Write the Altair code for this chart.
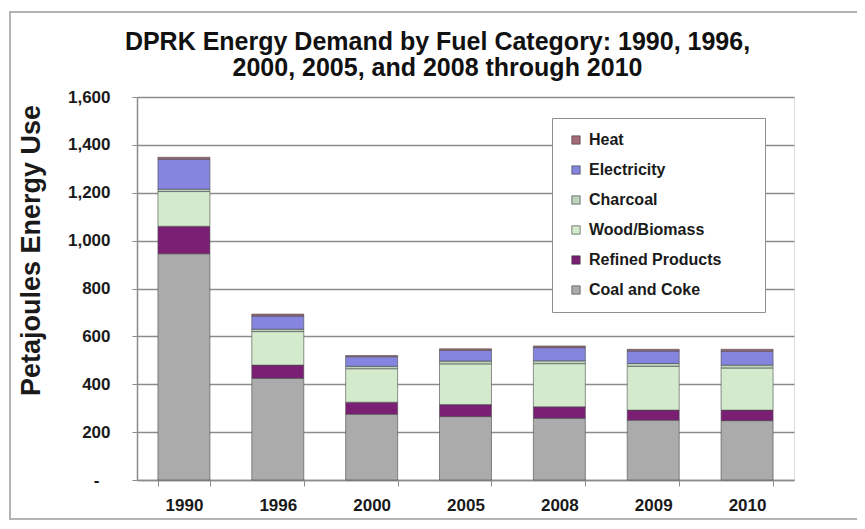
import altair as alt
import pandas as pd

years = ["1990", "1996", "2000", "2005", "2008", "2009", "2010"]
coal = [945, 425, 275, 265, 258, 250, 248]
refined = [115, 55, 50, 50, 48, 42, 44]
wood = [145, 140, 140, 170, 180, 183, 176]
charcoal = [10, 10, 10, 12, 12, 12, 12]
electricity = [125, 55, 40, 45, 55, 52, 58]
heat = [8, 8, 5, 6, 7, 7, 8]

stack_names = ["Coal and Coke", "Refined Products", "Wood/Biomass", "Charcoal", "Electricity", "Heat"]
stack_values = [coal, refined, wood, charcoal, electricity, heat]

legend_order = ["Heat", "Electricity", "Charcoal", "Wood/Biomass", "Refined Products", "Coal and Coke"]
legend_colors = ["#a56a7a", "#8585e0", "#bcd3bc", "#d3ebcc", "#7a1f74", "#ababab"]

y_ticks = [0, 200, 400, 600, 800, 1000, 1200, 1400, 1600]

rows = []
for i, (name, vals) in enumerate(zip(stack_names, stack_values)):
    for yr, v in zip(years, vals):
        rows.append({"Year": yr, "Fuel": name, "Value": v, "Stack": i})
df = pd.DataFrame(rows)

FONT = "Liberation Sans"
GRID = "#8c8c8c"

bars = alt.Chart(df).mark_bar(stroke="#4a4a4a", strokeWidth=0.6).encode(
    x=alt.X(
        "Year:N",
        sort=years,
        scale=alt.Scale(paddingInner=0.446, paddingOuter=0.223),
        axis=alt.Axis(
            title=None,
            labelAngle=0,
            labelFontSize=17,
            labelFontWeight="bold",
            labelFont=FONT,
            labelColor="#1a1a1a",
            labelPadding=11,
            tickBand="extent",
            tickSize=6,
            tickColor=GRID,
            domainColor=GRID,
            domainWidth=1.5,
            grid=False,
        ),
    ),
    y=alt.Y(
        "Value:Q",
        stack="zero",
        scale=alt.Scale(domain=[0, 1600], nice=False),
        axis=alt.Axis(
            values=y_ticks,
            labelExpr="datum.value == 0 ? '-' : format(datum.value, ',')",
            labelFontSize=17,
            labelFontWeight="bold",
            labelFont=FONT,
            labelColor="#1a1a1a",
            labelPadding={"condition": {"test": "datum.value == 0", "value": 33}, "value": 22},
            tickSize=5,
            tickColor=GRID,
            domainColor=GRID,
            domainWidth=1.5,
            grid=True,
            gridColor=GRID,
            gridWidth=1.3,
            title="Petajoules Energy Use",
            titleFont=FONT,
            titleFontSize=27,
            titleFontWeight="bold",
            titleColor="#1a1a1a",
            titleAlign="center",
            titleBaseline="bottom",
            titleX=-92,
            titleY=153,
        ),
    ),
    color=alt.Color(
        "Fuel:N",
        scale=alt.Scale(domain=legend_order, range=legend_colors),
        legend=alt.Legend(
            title="MMM",
            titleOrient="right",
            titleOpacity=0,
            titleFontSize=11,
            titlePadding=2,
            orient="none",
            legendX=415,
            legendY=21,
            fillColor="white",
            strokeColor="#909090",
            padding=14,
            symbolType="square",
            symbolSize=70,
            symbolStrokeColor="#333333",
            symbolStrokeWidth=0.6,
            symbolOffset=2,
            labelFont=FONT,
            labelFontSize=16,
            labelFontWeight="bold",
            labelColor="#1a1a1a",
            labelOffset=5,
            rowPadding=14,
        ),
    ),
    order=alt.Order("Stack:Q", sort="ascending"),
)

frame = alt.Chart(pd.DataFrame({"f": [0]})).mark_rect(
    filled=False, stroke="#b4b4b4", strokeWidth=2
).encode(
    x=alt.value(-127), x2=alt.value(760), y=alt.value(-85), y2=alt.value(422)
)

chart = alt.layer(frame, bars).properties(
    width=657,
    height=383,
    autosize=alt.AutoSizeParams(type="none"),
    padding={"left": 129, "top": 89, "right": 63, "bottom": 41},
    title=alt.TitleParams(
        text=["DPRK Energy Demand by Fuel Category: 1990, 1996,", "2000, 2005, and 2008 through 2010"],
        font=FONT,
        fontSize=25,
        fontWeight="bold",
        color="#111111",
        anchor="middle",
        frame="group",
        dx=-28,
        offset=-70,
        lineHeight=26,
    ),
).configure_view(stroke=GRID, strokeWidth=1.2).configure(background="white")

chart.save("out.html", embed_options={"renderer": "svg", "actions": False})
